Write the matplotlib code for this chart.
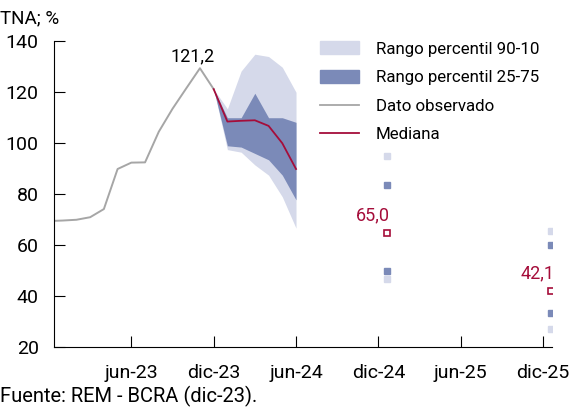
import matplotlib.pyplot as plt
from matplotlib.patches import Patch
from matplotlib.lines import Line2D
import numpy as np
import pandas as pd

plt.rcParams['font.family'] = ['Roboto', 'DejaVu Sans']
plt.rcParams['font.size'] = 12

# observed rate (TNA, %)
obs_months = pd.period_range('2022-12', '2023-12', freq='M')
obs_tna = [69.5, 69.7, 70.0, 71.0, 74.2, 89.9, 92.4, 92.5, 104.5, 113.5, 121.5, 129.4, 121.2]

# monthly forecast percentiles
fc_months = pd.period_range('2023-12', '2024-06', freq='M')
p90 = [121.2, 113.5, 128.3, 134.9, 134.0, 129.8, 120.0]
p75 = [121.2, 110.0, 110.0, 119.6, 110.0, 110.0, 108.2]
med = [121.2, 108.5, 108.8, 109.0, 106.8, 100.0, 89.9]
p25 = [121.2, 99.0, 98.5, 96.0, 93.5, 87.5, 77.8]
p10 = [121.2, 97.5, 96.5, 91.5, 87.5, 79.0, 66.7]

# year-end forecasts
yr_months = pd.PeriodIndex(['2024-12', '2025-12'], freq='M')
yr_p90 = [95.0, 65.7]
yr_p75 = [83.6, 60.1]
yr_med = [65.0, 42.1]
yr_p25 = [50.0, 33.6]
yr_p10 = [46.7, 27.1]

tick_months = pd.PeriodIndex(['2023-06', '2023-12', '2024-06', '2024-12', '2025-06', '2025-12'], freq='M')
tick_labels = ['jun-23', 'dic-23', 'jun-24', 'dic-24', 'jun-25', 'dic-25']

LIGHT = '#D5D9EA'
DARK = '#7B8AB8'
GRAY = '#A6A6A6'
RED = '#A50D3A'


def mx(p):
    return np.asarray((p.year - 2023) * 12 + p.month - 1, dtype=float)


fig = plt.figure(figsize=(5.75, 4.12), dpi=100)
ax = fig.add_axes([0.094, 0.157, 0.866, 0.743])

xf = mx(fc_months)
ax.fill_between(xf, p10, p90, color=LIGHT, lw=0)
ax.fill_between(xf, p25, p75, color=DARK, lw=0)
ax.plot(mx(obs_months), obs_tna, color=GRAY, lw=1.4)
ax.plot(xf, med, color=RED, lw=1.3)

# annual markers sit half a category to the right
xy = mx(yr_months) + 0.6
ax.plot(xy, yr_p90, 's', color=LIGHT, ms=4.5, ls='none')
ax.plot(xy, yr_p10, 's', color=LIGHT, ms=4.5, ls='none')
ax.plot(xy, yr_p75, 's', color=DARK, ms=4.5, ls='none')
ax.plot(xy, yr_p25, 's', color=DARK, ms=4.5, ls='none')
ax.plot(xy, yr_med, 's', mfc='white', mec=RED, mew=1.2, ms=5, ls='none')

ax.annotate('121,2', (mx(obs_months)[-1], obs_tna[-1]), xytext=(-15, 17),
            textcoords='offset points', ha='center', va='bottom', color='black',
            fontsize=13)
for x, v in zip(xy, yr_med):
    ax.annotate(f'{v:.1f}'.replace('.', ','), (x, v), xytext=(-10, 6),
                textcoords='offset points', ha='center', va='bottom', color=RED,
                fontsize=13)

ax.set_xlim(-0.63, 35.65)
ax.set_ylim(20, 140)
ax.set_yticks(range(20, 141, 20))
ax.set_xticks(mx(tick_months))
ax.set_xticklabels(tick_labels)
ax.tick_params(axis='both', direction='in', length=8, width=0.8, colors='black',
               labelsize=14)
ax.tick_params(axis='y', pad=11)
ax.tick_params(axis='x', pad=12)
for s in ['top', 'right']:
    ax.spines[s].set_visible(False)
ax.spines['left'].set_linewidth(0.8)
ax.spines['bottom'].set_linewidth(0.8)

handles = [Patch(color=LIGHT), Patch(color=DARK),
           Line2D([], [], color=GRAY, lw=1.3), Line2D([], [], color=RED, lw=1.3)]
labels = ['Rango percentil 90-10', 'Rango percentil 25-75', 'Dato observado', 'Mediana']
fig.legend(handles, labels, loc='upper left', bbox_to_anchor=(0.556, 0.90),
           frameon=False, borderpad=0, borderaxespad=0, handlelength=2.3,
           handleheight=0.8, handletextpad=1.0, labelspacing=0.78, fontsize=12.2)

fig.text(0.0, 0.955, 'TNA; %', ha='left', va='center', fontsize=13.5)
fig.text(0.0, 0.038, 'Fuente: REM - BCRA (dic-23).', ha='left', va='center', fontsize=14.5)

fig.savefig('out.png', dpi=100)
